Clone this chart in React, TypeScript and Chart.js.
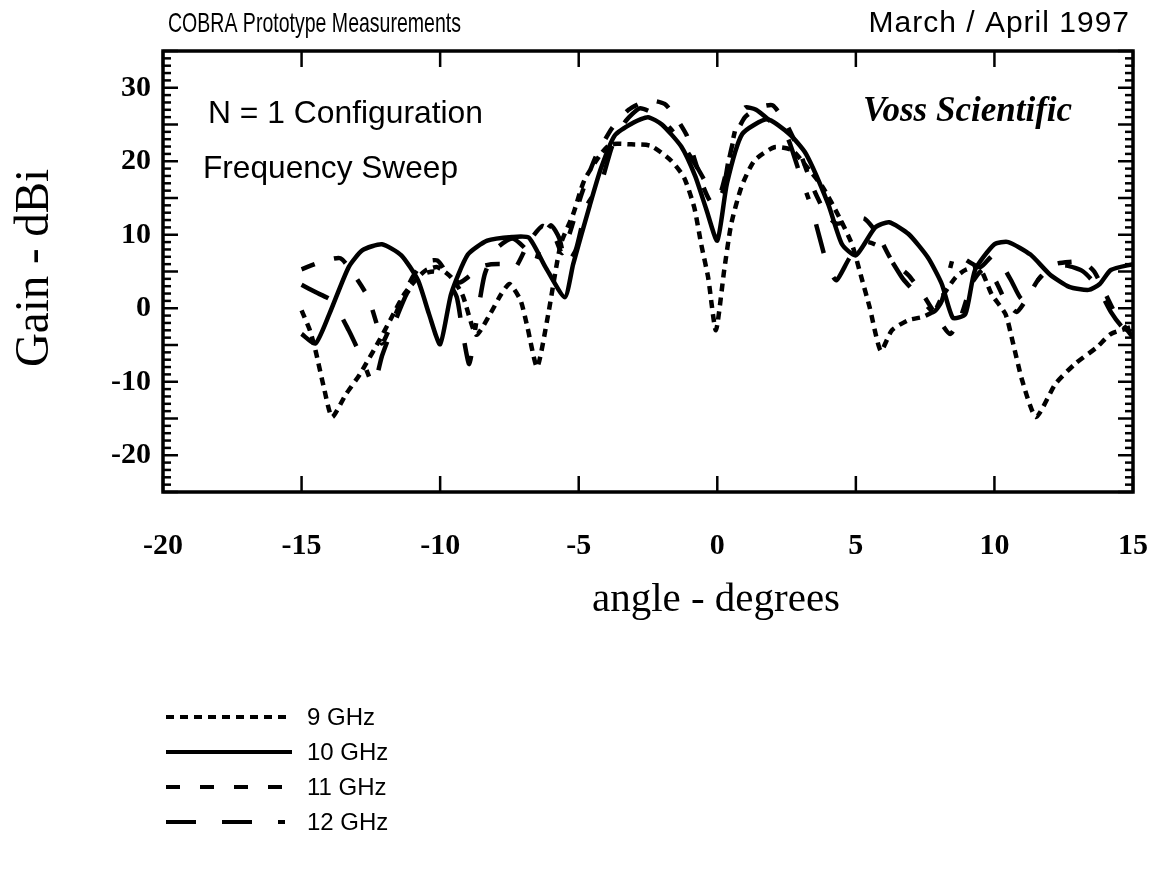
import React, { useEffect, useRef } from 'react';
import { Chart, registerables } from 'chart.js';

Chart.register(...registerables);

// ---- Data (angle in degrees, gain in dBi) ----
const angles9 = [-15, -14.7, -14.5, -14.2, -13.9, -13.4, -12.9, -12.2, -11.8, -11.3, -10.8, -10.5, -10.1, -9.6, -9.2, -8.7, -8.2, -7.8, -7.5, -7.1, -6.85, -6.5, -6.1, -5.65, -5.2, -4.8, -4.2, -3.85, -3.1, -2.4, -1.67, -1.2, -0.83, -0.58, -0.33, -0.05, 0.25, 0.5, 0.87, 1.34, 2.06, 2.7, 3.15, 3.8, 4.4, 4.86, 5.2, 5.5, 5.9, 6.3, 6.9, 7.4, 7.85, 8.1, 8.6, 8.95, 9.45, 9.9, 10.4, 10.65, 11.0, 11.5, 12.2, 12.9, 13.7, 14.2, 15];
const gain9 = [-0.3, -3, -5.7, -10.7, -14.8, -11.7, -9, -4.4, -1.6, 1.9, 4.2, 5.2, 5.6, 4.2, 1.9, -3.6, -0.8, 1.9, 3.3, 1.1, -2.6, -8, -0.8, 8.7, 12.8, 17.4, 21, 22.3, 22.3, 22.1, 20.1, 17.8, 13.7, 8.7, 4.2, -3, 5.2, 11.4, 16.5, 20.1, 21.9, 21.5, 19.6, 16.5, 12.4, 8.7, 4.2, 0.1, -5.8, -3, -1.6, -1.2, -0.3, 1.5, 4.2, 5.2, 5.6, 1.9, -0.8, -4.4, -9.8, -14.8, -10.3, -7.6, -5.3, -3.5, -2.5];

const angles10 = [-15, -14.5, -14.0, -13.3, -12.8, -12.1, -11.4, -10.8, -10.4, -10.0, -9.6, -9.0, -8.3, -7.4, -6.8, -6.2, -5.5, -5.2, -4.6, -4.2, -3.7, -3.0, -2.5, -2.0, -1.3, -0.8, -0.4, 0, 0.35, 0.9, 1.8, 2.6, 3.2, 4.0, 4.5, 5.0, 5.7, 6.2, 6.9, 7.6, 8.1, 8.5, 8.95, 9.3, 10.0, 10.5, 11.3, 12.0, 12.7, 13.4, 13.8, 14.2, 15];
const gain10 = [-3.5, -4.8, -0.8, 5.6, 7.9, 8.7, 7.2, 3.8, -0.8, -4.9, 2.0, 7.3, 9.2, 9.7, 9.6, 5.6, 1.5, 6, 14, 19, 23.5, 25.3, 26, 25, 22, 18, 13.5, 9.2, 17, 23.7, 25.7, 23.7, 21, 14.2, 8.7, 7.2, 11, 11.7, 10.1, 6.9, 3.3, -1.3, -0.8, 5.2, 8.7, 9, 7.3, 4.6, 2.9, 2.5, 3.3, 5.2, 6];

const angles11 = [-15, -14.3, -13.6, -13.1, -12.6, -12.3, -12.1, -11.8, -11.4, -11.0, -10.6, -10.1, -9.7, -9.3, -8.9, -8.4, -7.8, -7.3, -6.8, -6.3, -5.9, -5.6, -5.3, -4.9, -4.4, -3.8, -3.2, -2.5, -1.9, -1.5, -1.1, -0.8, -0.5, -0.2, 0.1, 0.35, 0.6, 1.0, 1.5, 2.0, 2.5, 3.0, 3.5, 3.9, 4.3, 4.8, 5.3, 5.8, 6.3, 6.9, 7.4, 7.9, 8.4, 8.8, 9.2, 9.6, 10.0, 10.4, 10.8, 11.2, 11.6, 12.2, 12.7, 13.2, 13.6, 14.0, 14.4, 14.8, 15];
const gain11 = [5.3, 6.3, 6.8, 4.5, 1.5, -2, -4.8, -2.5, 1, 4.2, 6.2, 6.5, 4.5, 3.5, 4.5, 5.8, 6, 5.5, 9, 11.2, 10, 7.5, 10.5, 15.5, 20.5, 24.5, 27, 28.3, 27.8, 26, 23.5, 20, 16.5, 14.3, 15.5, 19, 23, 26, 27.3, 27.6, 25, 21, 16, 13, 11.5, 12, 12.2, 10, 6.5, 4.5, 2, -1, -3.5, -1, 3.5, 5.3, 4, 1, -0.5, 1.5, 4, 6, 6.3, 6.3, 5, 2, -1, -3, -4];

const angles12 = [-15, -14.5, -13.9, -13.3, -12.8, -12.4, -12.1, -11.7, -11.2, -10.7, -10.2, -9.7, -9.4, -9.2, -8.95, -8.7, -8.4, -8.0, -7.4, -6.9, -6.6, -6.3, -6.0, -5.7, -5.45, -5.1, -4.7, -4.2, -3.8, -3.3, -2.8, -2.3, -1.7, -1.2, -0.7, -0.3, 0.15, 0.4, 0.7, 1.0, 1.4, 1.9, 2.5, 3.0, 3.4, 3.7, 4.0, 4.3, 4.8, 5.4, 6.0, 6.7, 7.3, 7.8, 8.1, 8.6, 9.0, 9.5, 10.0, 10.6, 11.0, 11.5, 12.0, 12.6, 13.2, 13.7, 14.2, 14.6, 15];
const gain12 = [3.2, 2.2, 1.0, -3, -7, -10.5, -6.5, -2.5, 2, 4.5, 5, 3.5, 1.5, -3, -7.6, -2, 4.5, 8, 9.5, 8, 6, 9.5, 11.3, 9.5, 6, 8, 14, 17, 22, 25.5, 27.2, 26.5, 24.5, 22, 19, 16.5, 15.5, 20, 25, 27.3, 27, 25.5, 23.5, 18, 13.7, 9.5, 5.5, 3.8, 7, 9, 8, 4, 1.5, -0.5, 1, 7.8, 6.5, 5.6, 7.3, 3.8, 1.2, 3.5, 5.5, 5.8, 5, 3, -0.5, -2.5, -3.5];

const seriesLabels = ['9 GHz', '10 GHz', '11 GHz', '12 GHz'];
const xTickValues = [-20, -15, -10, -5, 0, 5, 10, 15];
const yTickValues = [-20, -10, 0, 10, 20, 30];

const X_MIN = -20;
const X_MAX = 15;
const Y_MIN = -25;
const Y_MAX = 35;

const TITLE_LEFT = 'COBRA Prototype Measurements';
const TITLE_RIGHT = 'March / April 1997';
const NOTE_1 = 'N = 1 Configuration';
const NOTE_2 = 'Frequency Sweep';
const NOTE_3 = 'Voss Scientific';
const X_TITLE = 'angle - degrees';
const Y_TITLE = 'Gain - dBi';

const SERIF = '"Liberation Serif", "Times New Roman", serif';
const SANS = '"Liberation Sans", Arial, Helvetica, sans-serif';

const toPoints = (xs: number[], ys: number[]) => xs.map((x, i) => ({ x, y: ys[i] }));

const decorPlugin = {
  id: 'decor',
  afterDraw(chart: any) {
    const { ctx, chartArea: a, scales } = chart;
    const xs = scales.x;
    const ys = scales.y;
    const seg = (x1: number, y1: number, x2: number, y2: number) => {
      ctx.beginPath();
      ctx.moveTo(x1, y1);
      ctx.lineTo(x2, y2);
      ctx.stroke();
    };
    ctx.save();
    ctx.strokeStyle = '#000';
    ctx.fillStyle = '#000';
    ctx.setLineDash([]);

    // frame
    ctx.lineWidth = 3.5;
    ctx.strokeRect(a.left, a.top, a.right - a.left, a.bottom - a.top);

    // x ticks (inward, top and bottom)
    ctx.lineWidth = 2.5;
    for (const v of xTickValues) {
      const px = xs.getPixelForValue(v);
      seg(px, a.bottom, px, a.bottom - 16);
      seg(px, a.top, px, a.top + 16);
    }
    // y ticks (every unit, longer every 5), left and right
    for (let v = Y_MIN; v <= Y_MAX; v += 1) {
      const py = ys.getPixelForValue(v);
      const len = v % 5 === 0 ? 15 : 8;
      seg(a.left, py, a.left + len, py);
      seg(a.right, py, a.right - len, py);
    }

    // header texts
    ctx.textBaseline = 'alphabetic';
    ctx.textAlign = 'left';
    ctx.font = `28px ${SANS}`;
    ctx.fillText(TITLE_LEFT, 168, 32, 293);
    ctx.textAlign = 'right';
    ctx.font = `30px ${SANS}`;
    (ctx as any).letterSpacing = '1px';
    ctx.fillText(TITLE_RIGHT, 1130, 32, 268);
    (ctx as any).letterSpacing = '0px';

    // annotations in plot
    ctx.textAlign = 'left';
    ctx.font = `32px ${SANS}`;
    ctx.fillText(NOTE_1, 208, 123, 275);
    ctx.fillText(NOTE_2, 203, 178, 255);
    ctx.font = `italic bold 35px ${SERIF}`;
    ctx.fillText(NOTE_3, 863, 121, 210);

    // axis titles
    ctx.font = `41px ${SERIF}`;
    ctx.textAlign = 'center';
    ctx.textBaseline = 'middle';
    ctx.fillText(X_TITLE, 716, 600, 255);
    ctx.save();
    ctx.translate(35, 268);
    ctx.rotate(-Math.PI / 2);
    ctx.font = `48px ${SERIF}`;
    ctx.fillText(Y_TITLE, 0, 0, 198);
    ctx.restore();

    // legend
    const datasets = chart.data.datasets;
    datasets.forEach((ds: any, i: number) => {
      const y = 717 + i * 35;
      ctx.lineWidth = 4;
      ctx.setLineDash(ds.borderDash || []);
      seg(166, y, 292, y);
      ctx.setLineDash([]);
      ctx.font = `24px ${SANS}`;
      ctx.textAlign = 'left';
      ctx.textBaseline = 'middle';
      ctx.fillText(ds.label, 307, y + 1);
    });
    ctx.restore();
  },
};

export default function App() {
  const canvasRef = useRef<HTMLCanvasElement | null>(null);

  useEffect(() => {
    if (!canvasRef.current) return;
    const common = {
      borderColor: '#000',
      backgroundColor: '#000',
      borderWidth: 4.5,
      pointRadius: 0,
      tension: 0.2,
      fill: false,
      showLine: true,
    };
    const chart = new Chart(canvasRef.current, {
      type: 'scatter',
      data: {
        datasets: [
          { ...common, label: seriesLabels[0], data: toPoints(angles9, gain9), borderDash: [8, 6] },
          { ...common, label: seriesLabels[1], data: toPoints(angles10, gain10), borderDash: [] },
          { ...common, label: seriesLabels[2], data: toPoints(angles11, gain11), borderDash: [14, 20] },
          { ...common, label: seriesLabels[3], data: toPoints(angles12, gain12), borderDash: [30, 26, 30, 26, 7, 26] },
        ],
      },
      options: {
        animation: false,
        responsive: false,
        devicePixelRatio: 1,
        layout: { padding: { left: 8, top: 51, right: 20, bottom: 250 } },
        plugins: {
          legend: { display: false },
          tooltip: { enabled: false },
          title: { display: false },
        },
        scales: {
          x: {
            type: 'linear',
            min: X_MIN,
            max: X_MAX,
            afterFit: (s: any) => { s.height = 130; },
            afterBuildTicks: (s: any) => { s.ticks = xTickValues.map((v) => ({ value: v })); },
            grid: { display: true, drawOnChartArea: false, drawTicks: true, tickLength: 32, color: 'rgba(0,0,0,0)' },
            border: { display: false },
            ticks: {
              padding: 4,
              color: '#000',
              maxRotation: 0,
              font: { family: SERIF, size: 30, weight: 'bold' },
              callback: (v: any) => String(v),
            },
          },
          y: {
            type: 'linear',
            min: Y_MIN,
            max: Y_MAX,
            afterFit: (s: any) => { s.width = 155; },
            afterBuildTicks: (s: any) => { s.ticks = yTickValues.map((v) => ({ value: v })); },
            grid: { display: false, drawTicks: false },
            border: { display: false },
            ticks: {
              padding: 12,
              color: '#000',
              font: { family: SERIF, size: 30, weight: 'bold' },
              callback: (v: any) => String(v),
            },
          },
        },
      },
      plugins: [decorPlugin],
    } as any);
    return () => chart.destroy();
  }, []);

  return (
    <div style={{ position: 'fixed', left: 0, top: 0, width: 1153, height: 872, background: '#fff' }}>
      <canvas ref={canvasRef} width={1153} height={872} style={{ width: 1153, height: 872, display: 'block' }} />
    </div>
  );
}
